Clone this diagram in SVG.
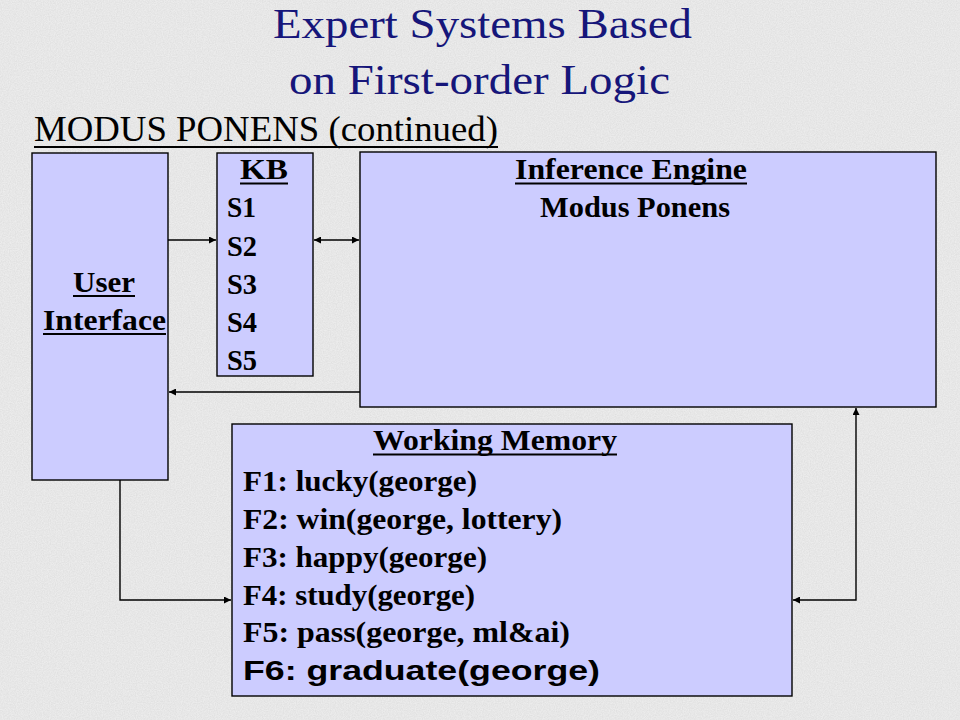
<svg xmlns="http://www.w3.org/2000/svg" width="960" height="720" viewBox="0 0 960 720">
  <defs>
    <filter id="grain" x="0" y="0" width="100%" height="100%">
      <feTurbulence type="fractalNoise" baseFrequency="0.85" numOctaves="2" seed="7" result="n"/>
      <feColorMatrix in="n" type="matrix" values="0 0 0 0 0.6  0 0 0 0 0.6  0 0 0 0 0.6  0 0 0 0.6 -0.14"/>
    </filter>
    <marker id="ah" viewBox="0 0 10 10" refX="10" refY="5" markerWidth="9" markerHeight="7" markerUnits="userSpaceOnUse" orient="auto-start-reverse">
      <path d="M0,0 L10,5 L0,10 z" fill="#000"/>
    </marker>
  </defs>
  <style>
    .box { fill: #ccccff; stroke: #000; stroke-width: 1.4; }
    .title { font-family: "Liberation Serif", "Times New Roman", serif; font-size: 42px; fill: #16167a; }
    .sub { font-family: "Liberation Serif", "Times New Roman", serif; font-size: 35px; fill: #000; }
    .lbl { font-family: "Liberation Serif", "Times New Roman", serif; font-size: 29px; font-weight: bold; fill: #000; }
    .sans { font-family: "Liberation Sans", Arial, sans-serif; font-size: 27px; font-weight: bold; fill: #000; }
    .ul { stroke: #000; stroke-width: 2; }
    .conn { fill: none; stroke: #000; stroke-width: 1.4; }
  </style>

  <rect width="960" height="720" fill="#ececec"/>
  <rect width="960" height="720" filter="url(#grain)"/>

  <g id="title">
    <text class="title" x="273" y="38" textLength="419" lengthAdjust="spacingAndGlyphs">Expert Systems Based</text>
    <text class="title" x="289" y="94" textLength="381" lengthAdjust="spacingAndGlyphs">on First-order Logic</text>
    <text class="sub" x="34" y="141" textLength="464" lengthAdjust="spacingAndGlyphs">MODUS PONENS (continued)</text>
    <line class="ul" x1="34" y1="147" x2="498" y2="147"/>
  </g>

  <g id="user-interface">
    <rect class="box" x="32" y="153" width="136" height="327"/>
    <text class="lbl" x="104" y="292" text-anchor="middle" textLength="62" lengthAdjust="spacingAndGlyphs">User</text>
    <line class="ul" x1="73" y1="296" x2="135" y2="296"/>
    <text class="lbl" x="104.5" y="330" text-anchor="middle" textLength="123" lengthAdjust="spacingAndGlyphs">Interface</text>
    <line class="ul" x1="43" y1="334" x2="166" y2="334"/>
  </g>

  <g id="kb">
    <rect class="box" x="217" y="153" width="96" height="223"/>
    <text class="lbl" x="264" y="179" text-anchor="middle" textLength="48" lengthAdjust="spacingAndGlyphs">KB</text>
    <line class="ul" x1="240" y1="183.5" x2="288" y2="183.5"/>
    <text class="lbl" x="227" y="217" textLength="29" lengthAdjust="spacingAndGlyphs">S1</text>
    <text class="lbl" x="227" y="256" textLength="30" lengthAdjust="spacingAndGlyphs">S2</text>
    <text class="lbl" x="227" y="294" textLength="30" lengthAdjust="spacingAndGlyphs">S3</text>
    <text class="lbl" x="227" y="332" textLength="30" lengthAdjust="spacingAndGlyphs">S4</text>
    <text class="lbl" x="227" y="370" textLength="30" lengthAdjust="spacingAndGlyphs">S5</text>
  </g>

  <g id="inference-engine">
    <rect class="box" x="360" y="152" width="576" height="255"/>
    <text class="lbl" x="631" y="179" text-anchor="middle" textLength="232" lengthAdjust="spacingAndGlyphs">Inference Engine</text>
    <line class="ul" x1="515" y1="183.5" x2="747" y2="183.5"/>
    <text class="lbl" x="635" y="217" text-anchor="middle" textLength="190" lengthAdjust="spacingAndGlyphs">Modus Ponens</text>
  </g>

  <g id="working-memory">
    <rect class="box" x="232" y="424" width="560" height="272"/>
    <text class="lbl" x="495" y="450" text-anchor="middle" textLength="244" lengthAdjust="spacingAndGlyphs">Working Memory</text>
    <line class="ul" x1="373" y1="454.5" x2="617" y2="454.5"/>
    <text class="lbl" x="243" y="491" textLength="234" lengthAdjust="spacingAndGlyphs">F1: lucky(george)</text>
    <text class="lbl" x="243" y="529" textLength="319" lengthAdjust="spacingAndGlyphs">F2: win(george, lottery)</text>
    <text class="lbl" x="243" y="567" textLength="244" lengthAdjust="spacingAndGlyphs">F3: happy(george)</text>
    <text class="lbl" x="243" y="605" textLength="232" lengthAdjust="spacingAndGlyphs">F4: study(george)</text>
    <text class="lbl" x="243" y="642" textLength="327" lengthAdjust="spacingAndGlyphs">F5: pass(george, ml&amp;ai)</text>
    <text class="sans" x="243" y="680" textLength="357" lengthAdjust="spacingAndGlyphs">F6: graduate(george)</text>
  </g>

  <g id="connectors">
    <line class="conn" x1="168" y1="240" x2="216" y2="240" marker-end="url(#ah)"/>
    <line class="conn" x1="314" y1="240" x2="359" y2="240" marker-start="url(#ah)" marker-end="url(#ah)"/>
    <line class="conn" x1="360" y1="392" x2="169" y2="392" marker-end="url(#ah)"/>
    <polyline class="conn" points="120,480 120,600 231,600" marker-end="url(#ah)"/>
    <polyline class="conn" points="793,600 856,600 856,408" marker-start="url(#ah)" marker-end="url(#ah)"/>
  </g>
</svg>
